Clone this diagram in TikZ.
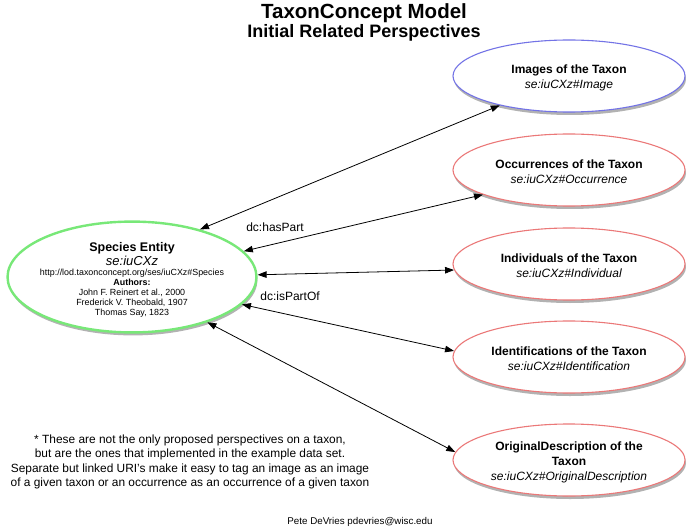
\documentclass[tikz,border=0pt]{standalone}
\usepackage{fontspec}
\setmainfont{Liberation Sans}
\usetikzlibrary{shapes.geometric,shadows,arrows.meta}
\definecolor{ebluec}{RGB}{115,115,230}
\definecolor{eredc}{RGB}{235,120,120}
\definecolor{egreenc}{RGB}{120,232,120}
\newcommand{\toppad}{\rule{0pt}{13pt}}
\tikzset{
  persp/.style={ellipse, draw=eredc, line width=1.1pt, fill=white, minimum width=232pt, minimum height=72pt, inner sep=0pt, align=center,
    font=\fontsize{12}{15}\selectfont,
    drop shadow={shadow xshift=1pt, shadow yshift=-3pt, opacity=0.3, fill=black}},
  link/.style={line width=0.8pt, {Triangle[length=9pt,width=6.5pt]}-{Triangle[length=9pt,width=6.5pt]}},
  lbl/.style={font=\fontsize{12}{14}\selectfont, inner sep=0pt},
}
\begin{document}
\begin{tikzpicture}[x=1pt,y=-1pt]
\useasboundingbox (0,0) rectangle (695,529);
\node[font=\bfseries\fontsize{20.5}{22}\selectfont, inner sep=0pt] (t1) at (364,13) {TaxonConcept Model};
\node[font=\bfseries\fontsize{18}{20}\selectfont, inner sep=0pt] (t2) at (364,33) {Initial Related Perspectives};

\node[ellipse, draw=egreenc, line width=2.4pt, fill=white, minimum width=244pt, minimum height=106pt, inner xsep=-4pt, inner ysep=-1pt, align=center,
  drop shadow={shadow xshift=1pt, shadow yshift=-3pt, opacity=0.3, fill=black},
  font=\fontsize{8.9}{10}\selectfont] (sp) at (132,277)
  {{\bfseries\fontsize{12.5}{14}\selectfont\rule{0pt}{14.5pt}Species Entity}\\[1pt]
   {\itshape\fontsize{13}{14}\selectfont se:iuCXz}\\
   http://lod.taxonconcept.org/ses/iuCXz\#Species\\
   {\bfseries Authors:}\\
   John F. Reinert et al., 2000\\
   Frederick V. Theobald, 1907\\
   Thomas Say, 1823};

\node[persp, draw=ebluec] (img) at (569,76) {\toppad\bfseries Images of the Taxon\\ \itshape se:iuCXz\#Image};
\node[persp] (occ) at (569,170) {\toppad\bfseries Occurrences of the Taxon\\ \itshape se:iuCXz\#Occurrence};
\node[persp] (ind) at (569,264) {\toppad\bfseries Individuals of the Taxon\\ \itshape se:iuCXz\#Individual};
\node[persp] (idf) at (569,357) {\toppad\bfseries Identifications of the Taxon\\ \itshape se:iuCXz\#Identification};
\node[persp] (ode) at (569,460) {\toppad\bfseries OriginalDescription of the\\ \bfseries Taxon\\ \itshape se:iuCXz\#OriginalDescription};

\draw[link] (sp.35) -- (img.203);
\draw[link] (sp.13) -- (occ.196);
\draw[link] (sp.1) -- (ind.183);
\draw[link] (sp.-14) -- (idf.177);
\draw[link] (sp.-31) -- (ode.176);

\node[lbl] (hp) at (275,227) {dc:hasPart};
\node[lbl] (ip) at (290,296) {dc:isPartOf};

\node[align=center, font=\fontsize{11.9}{14.6}\selectfont, inner sep=0pt] (note) at (190,462)
  {* These are not the only proposed perspectives on a taxon,\\
   but are the ones that implemented in the example data set.\\
   Separate but linked URI's make it easy to tag an image as an image\\
   of a given taxon or an occurrence as an occurrence of a given taxon};

\node[font=\fontsize{9.8}{11}\selectfont, inner sep=0pt] (auth) at (360,522) {Pete DeVries pdevries@wisc.edu};
\end{tikzpicture}
\end{document}
